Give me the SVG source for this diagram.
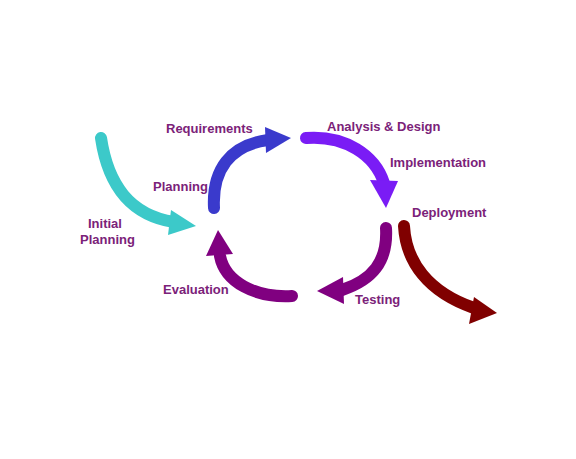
<svg xmlns="http://www.w3.org/2000/svg" width="576" height="459" viewBox="0 0 576 459">
<style>
.shaft{fill:none;stroke-width:12;stroke-linecap:round}
.lbl{font-family:"Liberation Sans",Arial,sans-serif;font-weight:bold;font-size:13px;fill:#7b2279}
</style>
<rect width="576" height="459" fill="#ffffff"/>
<g id="connectors">
<g id="initial-planning-arrow"><path class="shaft" stroke="#3cc9c9" d="M101,138 C108,185 130,215 174,222"/><polygon fill="#3cc9c9" points="171,210 196,226 168,235"/></g>
<g id="planning-arrow"><path class="shaft" stroke="#3a3acc" d="M214,208 C212,170 230,145 268,140"/><polygon fill="#3a3acc" points="265,127 291,138 266,153"/></g>
<g id="analysis-arrow"><path class="shaft" stroke="#7a1cf5" d="M306,138 C345,135 375,155 384,183"/><polygon fill="#7a1cf5" points="370,180 386,208 398,181"/></g>
<g id="testing-arrow"><path class="shaft" stroke="#800080" d="M386,228 C388,262 372,280 342,290"/><polygon fill="#800080" points="343,277 317,291 344,304"/></g>
<g id="deployment-arrow"><path class="shaft" stroke="#800000" d="M404,226 C406,262 428,292 474,308"/><polygon fill="#800000" points="474,297 497,313 469,324"/></g>
<g id="evaluation-arrow"><path class="shaft" stroke="#800080" d="M292,296 C255,298 225,282 220,256"/><polygon fill="#800080" points="206,256 218,230 233,254"/></g>
</g>
<g id="requirements"><text class="lbl" x="166" y="133">Requirements</text></g>
<g id="analysis"><text class="lbl" x="327" y="131">Analysis &amp; Design</text></g>
<g id="implementation"><text class="lbl" x="390" y="167">Implementation</text></g>
<g id="deployment"><text class="lbl" x="412" y="217">Deployment</text></g>
<g id="planning"><text class="lbl" x="153" y="191">Planning</text></g>
<g id="initial-planning"><text class="lbl" x="88" y="228">Initial</text><text class="lbl" x="80" y="244">Planning</text></g>
<g id="evaluation"><text class="lbl" x="163" y="294">Evaluation</text></g>
<g id="testing"><text class="lbl" x="355" y="304">Testing</text></g>
</svg>
